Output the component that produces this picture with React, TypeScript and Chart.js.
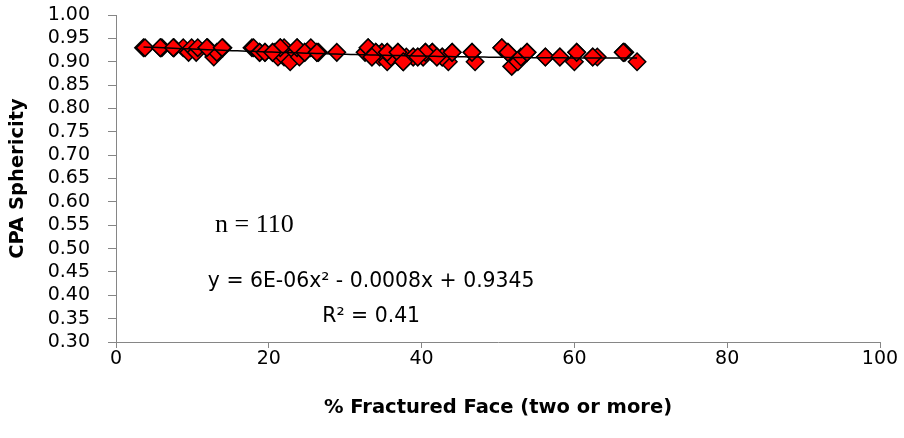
import React, { useEffect, useRef } from 'react';
import { Chart, registerables } from 'chart.js';

Chart.register(...registerables);

// % Fractured Face (two or more)
const fracturedFace = [
  3.6, 3.8, 5.8, 6.0, 7.5, 7.6, 8.8, 9.5, 9.9, 10.5, 10.7, 11.9, 12.0, 12.8, 13.2, 13.9, 14.0,
  17.8, 18.0, 18.8, 19.5, 20.5, 20.8, 21.2, 21.5, 22.0, 22.0, 22.8, 23.5, 23.7, 24.0, 24.7, 25.5,
  26.3, 26.5, 28.9, 21.5, 23.7, 24.7, 26.3,
  32.6, 33.0, 33.5, 34.0, 34.5, 34.8, 35.5, 35.5, 36.0, 36.9, 37.6, 38.0, 38.9, 39.5, 40.2, 40.5,
  41.4, 42.0, 42.7, 43.5, 44.0, 46.6, 47.0, 33.0, 34.0, 35.5, 36.9, 38.9, 40.2, 41.4, 42.7, 44.0,
  46.6, 33.5, 37.6, 40.5, 42.0, 39.5,
  50.5, 51.3, 51.8, 52.6, 53.0, 53.8, 56.2, 58.1, 60.3, 60.0, 62.4, 63.0, 66.4, 66.6, 68.2,
  50.5, 51.3, 53.8, 56.2, 58.1, 60.3, 62.4, 66.4, 18.8, 19.5, 20.5, 5.8, 7.5, 11.9, 13.9,
];

// CPA Sphericity
const sphericity = [
  0.93, 0.93, 0.93, 0.93, 0.93, 0.93, 0.93, 0.92, 0.93, 0.92, 0.93, 0.93, 0.93, 0.91, 0.92, 0.93, 0.93,
  0.93, 0.93, 0.92, 0.92, 0.92, 0.92, 0.91, 0.93, 0.93, 0.91, 0.90, 0.92, 0.93, 0.91, 0.92, 0.93,
  0.92, 0.92, 0.92, 0.93, 0.93, 0.92, 0.92,
  0.92, 0.93, 0.91, 0.92, 0.91, 0.92, 0.92, 0.90, 0.91, 0.92, 0.90, 0.91, 0.91, 0.91, 0.91, 0.92,
  0.92, 0.91, 0.91, 0.90, 0.92, 0.92, 0.90, 0.93, 0.92, 0.92, 0.92, 0.91, 0.91, 0.92, 0.91, 0.92,
  0.92, 0.91, 0.90, 0.92, 0.91, 0.91,
  0.93, 0.92, 0.89, 0.90, 0.91, 0.92, 0.91, 0.91, 0.92, 0.90, 0.91, 0.91, 0.92, 0.92, 0.90,
  0.93, 0.92, 0.92, 0.91, 0.91, 0.92, 0.91, 0.92, 0.92, 0.92, 0.92, 0.93, 0.93, 0.93, 0.93,
];

const xTicks = [0, 20, 40, 60, 80, 100];
const yTickMin = 0.3;
const yTickMax = 1.0;
const yTickStep = 0.05;

// polynomial trendline coefficients: c0 + c1*x + c2*x^2
const trendCoef = [0.9345, -0.0008, 0.000006];

const nLabel = 'n = 110';
const eqLabel = 'y = 6E-06x² - 0.0008x + 0.9345';
const r2Label = 'R² = 0.41';
const xTitle = '% Fractured Face (two or more)';
const yTitle = 'CPA Sphericity';

const FONT = '"DejaVu Sans", sans-serif';
const AXIS_COLOR = '#868686';

export default function App() {
  const ref = useRef<HTMLCanvasElement | null>(null);

  useEffect(() => {
    if (!ref.current) return;
    const points = fracturedFace.map((x, i) => ({ x, y: sphericity[i] }));
    const xMin = Math.min(...fracturedFace);
    const xMax = Math.max(...fracturedFace);

    const overlay = {
      id: 'overlay',
      afterDatasetsDraw(chart: any) {
        const { ctx, scales } = chart;
        const xs = scales.x;
        const ys = scales.y;
        // trendline
        ctx.save();
        ctx.beginPath();
        ctx.strokeStyle = '#000000';
        ctx.lineWidth = 1.5;
        const steps = 100;
        for (let i = 0; i <= steps; i++) {
          const xv = xMin + ((xMax - xMin) * i) / steps;
          const yv = trendCoef[0] + trendCoef[1] * xv + trendCoef[2] * xv * xv;
          const px = xs.getPixelForValue(xv);
          const py = ys.getPixelForValue(yv);
          if (i === 0) ctx.moveTo(px, py);
          else ctx.lineTo(px, py);
        }
        ctx.stroke();
        ctx.restore();
      },
      afterDraw(chart: any) {
        const { ctx, scales } = chart;
        const xs = scales.x;
        const ys = scales.y;
        ctx.save();
        ctx.fillStyle = '#000000';
        ctx.textBaseline = 'middle';
        ctx.textAlign = 'left';
        ctx.font = '26px "Liberation Serif", serif';
        ctx.fillText(nLabel, xs.getPixelForValue(12.96), ys.getPixelForValue(0.55));
        ctx.textAlign = 'center';
        ctx.font = '20.4px ' + FONT;
        ctx.fillText(eqLabel, xs.getPixelForValue(33.4), ys.getPixelForValue(0.4285));
        ctx.fillText(r2Label, xs.getPixelForValue(33.4), ys.getPixelForValue(0.354));
        ctx.restore();
      },
    };

    const chart = new Chart(ref.current, {
      type: 'scatter',
      data: {
        datasets: [
          {
            data: points,
            pointStyle: 'rectRot',
            pointRadius: 8.7,
            pointHoverRadius: 8.7,
            backgroundColor: '#FF0000',
            borderColor: '#000000',
            borderWidth: 1.5,
          },
        ],
      },
      options: {
        responsive: true,
        maintainAspectRatio: false,
        animation: false,
        layout: { padding: { top: 15, right: 24, left: 0, bottom: 0 } },
        plugins: {
          legend: { display: false },
          tooltip: { enabled: false },
        },
        scales: {
          x: {
            type: 'linear',
            min: 0,
            max: 100,
            afterBuildTicks: (scale: any) => {
              scale.ticks = xTicks.map((v) => ({ value: v }));
            },
            afterFit: (scale: any) => {
              scale.height = 96;
            },
            grid: {
              display: true,
              drawOnChartArea: false,
              drawTicks: true,
              tickLength: 6,
              color: AXIS_COLOR,
              lineWidth: 1,
            },
            border: { display: true, color: AXIS_COLOR, width: 1 },
            ticks: {
              color: '#000000',
              font: { family: FONT, size: 19, lineHeight: 1 },
              padding: 2,
              maxRotation: 0,
            },
            title: {
              display: true,
              text: xTitle,
              color: '#000000',
              font: { family: FONT, size: 19.5, weight: 'bold', lineHeight: 1.2 },
              padding: { top: 0, bottom: 18 },
            },
          },
          y: {
            type: 'linear',
            min: yTickMin,
            max: yTickMax,
            afterBuildTicks: (scale: any) => {
              const t: any[] = [];
              const n = Math.round((yTickMax - yTickMin) / yTickStep);
              for (let i = 0; i <= n; i++) t.push({ value: +(yTickMin + i * yTickStep).toFixed(2) });
              scale.ticks = t;
            },
            afterFit: (scale: any) => {
              scale.width = 116;
              scale.paddingTop = 10;
              scale.paddingBottom = 10;
            },
            grid: {
              display: true,
              drawOnChartArea: false,
              drawTicks: true,
              tickLength: 8,
              color: AXIS_COLOR,
              lineWidth: 1,
            },
            border: { display: true, color: AXIS_COLOR, width: 1 },
            ticks: {
              color: '#000000',
              font: { family: FONT, size: 19, lineHeight: 1 },
              padding: 18,
              callback: (v: any) => Number(v).toFixed(2),
            },
            title: {
              display: true,
              text: yTitle,
              color: '#000000',
              font: { family: FONT, size: 19.5, weight: 'bold', lineHeight: 1.2 },
              padding: { top: 6, bottom: 0 },
            },
          },
        },
      },
      plugins: [overlay],
    });
    return () => chart.destroy();
  }, []);

  return (
    <div style={{ position: 'absolute', left: 0, top: 0, width: 904, height: 438, background: '#ffffff' }}>
      <canvas ref={ref} />
    </div>
  );
}
